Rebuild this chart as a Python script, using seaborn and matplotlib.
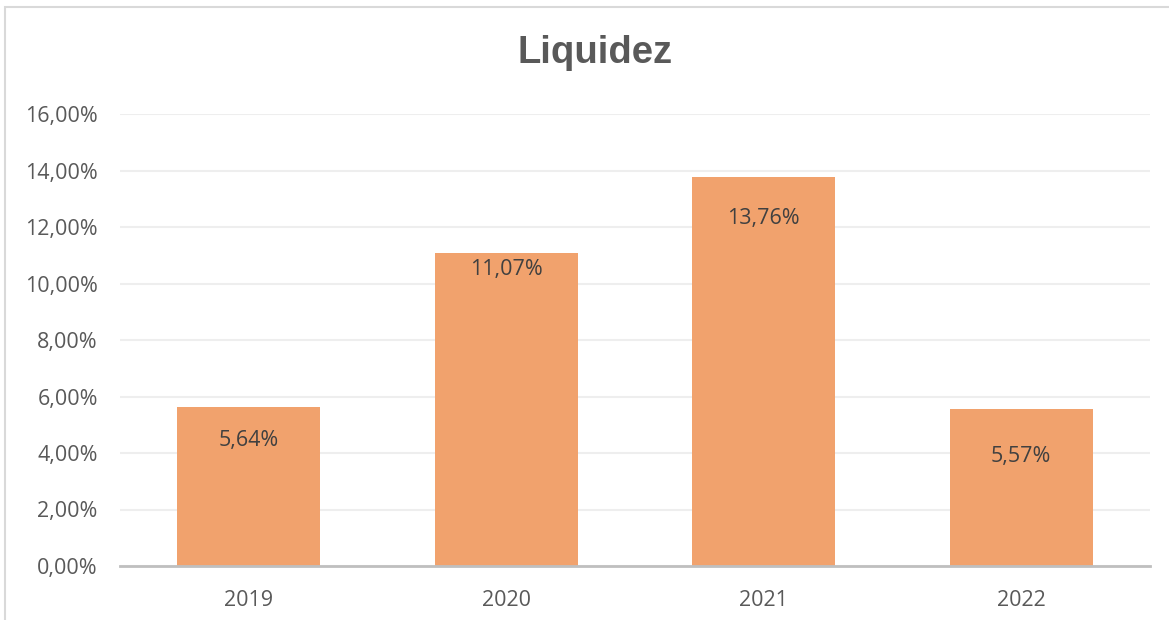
import matplotlib
matplotlib.use("Agg")
import matplotlib.pyplot as plt
import seaborn as sns
import pandas as pd
from matplotlib.patches import Rectangle
from matplotlib.ticker import FuncFormatter

# ==========================================
# Data
# ==========================================
years = ["2019", "2020", "2021", "2022"]
liquidez = [5.64, 11.07, 13.76, 5.57]
value_labels = ["5,64%", "11,07%", "13,76%", "5,57%"]

# label distance below bar top, in pixels (hand placed in the original)
label_drop = [34, 16, 41, 48]

df = pd.DataFrame({"year": years, "liquidez": liquidez})

# ==========================================
# Style
# ==========================================
sns.set_style("white")
plt.rcParams["font.family"] = ["Open Sans", "DejaVu Sans"]
text_color = "#595959"
bar_color = "#F1A26D"

fig = plt.figure(figsize=(11.69, 6.2), dpi=100)
ax = fig.add_axes([120 / 1169, 1 - 566 / 620, (1150 - 120) / 1169, (566 - 114) / 620])

sns.barplot(data=df, x="year", y="liquidez", color=bar_color, saturation=1,
            width=0.556, linewidth=0, ax=ax, zorder=2)

ax.set_ylim(0, 16)
ax.set_xlim(-0.5, 3.5)
ax.set_yticks(range(0, 17, 2))
ax.yaxis.set_major_formatter(FuncFormatter(lambda v, p: f"{v:.2f}".replace(".", ",") + "%"))
ax.grid(axis="y", color="#EEEEEE", linewidth=1.5, zorder=0)
ax.set_axisbelow(True)

for side in ["top", "right", "left"]:
    ax.spines[side].set_visible(False)
ax.spines["bottom"].set_color("#BFBFBF")
ax.spines["bottom"].set_linewidth(2)
ax.spines["bottom"].set_zorder(3)

ax.tick_params(axis="y", length=0, pad=16, labelsize=15.5, labelcolor=text_color)
ax.tick_params(axis="x", length=0, pad=17, labelsize=15.5, labelcolor=text_color)
ax.set_xlabel("")
ax.set_ylabel("")

for i, (v, lab) in enumerate(zip(liquidez, value_labels)):
    ax.annotate(lab, xy=(i, v), xytext=(0, -label_drop[i]), textcoords="offset pixels",
                ha="center", va="center", fontsize=15.5, color="#404040", zorder=4)

fig.text(595 / 1169, 1 - 53 / 620, "Liquidez", ha="center", va="center",
         fontsize=27.5, fontweight="bold", color=text_color, family="Liberation Sans")

# chart frame (only top/left edges visible in the crop)
fig.patches.append(Rectangle((5 / 1169, -0.1), 1.2, 1 - 7 / 620 + 0.1, transform=fig.transFigure,
                             fill=False, edgecolor="#D9D9D9", linewidth=1.5))

plt.savefig("out.png", dpi=100)
plt.close()
